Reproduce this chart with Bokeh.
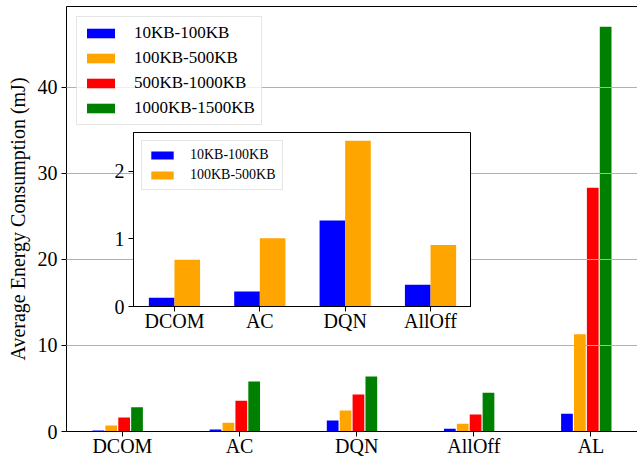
from bokeh.plotting import figure
from bokeh.models import (Range1d, FixedTicker, Legend, LegendItem,
                          ColumnDataSource, GridBox, LinearAxis)
from bokeh.transform import dodge
from bokeh.embed import file_html
from bokeh.resources import INLINE

# Average energy consumption (mJ) per method and file-size bin
methods = ["DCOM", "AC", "DQN", "AllOff", "AL"]
size_bins = ["10KB-100KB", "100KB-500KB", "500KB-1000KB", "1000KB-1500KB"]
energy_10_100 = [0.13, 0.22, 1.27, 0.32, 2.05]
energy_100_500 = [0.69, 1.01, 2.45, 0.91, 11.3]
energy_500_1000 = [1.63, 3.56, 4.30, 1.97, 28.3]
energy_1000_1500 = [2.83, 5.80, 6.40, 4.49, 47.0]
bar_colors = ["blue", "orange", "red", "green"]

# zoomed view: the first four methods, two smallest bins
inset_methods = methods[:4]

FONT = "Liberation Serif"

# both figures share the same border sizes, since the grid cell aligns frames
BORDER_L, BORDER_T, BORDER_R, BORDER_B = 66, 6, 0, 28


def style_axes(fig, size="20px"):
    for ax in (fig.xaxis, fig.yaxis):
        ax.major_label_text_font = FONT
        ax.major_label_text_font_size = size
        ax.major_label_text_color = "black"
        ax.axis_line_color = "black"
        ax.major_tick_line_color = "black"
        ax.major_tick_out = 5
        ax.major_tick_in = 0
        ax.minor_tick_line_color = None
    fig.xaxis.major_label_standoff = -2
    fig.yaxis.major_label_standoff = 4


series = [energy_10_100, energy_100_500, energy_500_1000, energy_1000_1500]
src = ColumnDataSource(dict(
    x=list(range(len(methods))),
    s0=energy_10_100, s1=energy_100_500, s2=energy_500_1000, s3=energy_1000_1500,
))

ymax = max(max(s) for s in series) * 1.05
p = figure(width=637, height=459, output_backend="svg", toolbar_location=None,
           x_range=Range1d(-0.477, 4.397), y_range=Range1d(0, ymax),
           min_border=0, min_border_left=BORDER_L, min_border_top=BORDER_T,
           min_border_right=BORDER_R, min_border_bottom=BORDER_B,
           outline_line_color=None,
           background_fill_color="white", border_fill_color="white")

offsets = [-0.205, -0.095, 0.015, 0.125]
renderers = []
for i, (off, col) in enumerate(zip(offsets, bar_colors)):
    r = p.vbar(x=dodge("x", off), top=f"s{i}", width=0.1, bottom=0, source=src,
               fill_color=col, line_color=None)
    renderers.append(r)

p.xaxis.ticker = FixedTicker(ticks=list(range(len(methods))))
p.xaxis.major_label_overrides = {i: m for i, m in enumerate(methods)}
p.yaxis.ticker = FixedTicker(ticks=[0, 10, 20, 30, 40])
style_axes(p)
p.yaxis.axis_label = "Average Energy Consumption (mJ)"
p.yaxis.axis_label_text_font = FONT
p.yaxis.axis_label_text_font_size = "20px"
p.yaxis.axis_label_text_font_style = "normal"
p.yaxis.axis_label_text_color = "black"
p.yaxis.axis_label_standoff = 6
p.xgrid.visible = False
p.ygrid.grid_line_color = "#b0b0b0"
p.ygrid.grid_line_width = 1
p.ygrid.level = "guide"

# top spine only (the right side of the frame runs off the page)
top_spine = LinearAxis(ticker=FixedTicker(ticks=[]), major_tick_out=0,
                       major_tick_in=0, minor_tick_out=0, minor_tick_in=0,
                       major_label_standoff=0, major_label_text_font_size="0px",
                       axis_line_color="black")
p.add_layout(top_spine, "above")

legend = Legend(
    items=[LegendItem(label=lab, renderers=[r]) for lab, r in zip(size_bins, renderers)],
    location="top_left", margin=10, padding=6, spacing=5,
    glyph_width=35, glyph_height=12, label_standoff=16, label_height=20,
    label_text_font=FONT, label_text_font_size="17px", label_text_color="black",
    border_line_color="#cccccc", background_fill_color="white",
    background_fill_alpha=0.8,
)
p.add_layout(legend)

# inset chart
isrc = ColumnDataSource(dict(
    x=list(range(len(inset_methods))),
    s0=energy_10_100[:4], s1=energy_100_500[:4],
))
iymax = max(energy_10_100[:4] + energy_100_500[:4]) * 1.05
inset_frame_w, inset_frame_h = 338, 174
inset = figure(width=BORDER_L + inset_frame_w + BORDER_R,
               height=BORDER_T + inset_frame_h + BORDER_B,
               output_backend="svg", toolbar_location=None,
               x_range=Range1d(-0.48, 3.48), y_range=Range1d(0, iymax),
               min_border=0, min_border_left=BORDER_L, min_border_top=BORDER_T,
               min_border_right=BORDER_R, min_border_bottom=BORDER_B,
               outline_line_color="black",
               background_fill_color="white", border_fill_color=None,
               margin=(132 - BORDER_T, 0, 0, 133 - BORDER_L))
ir = []
for i, (off, col) in enumerate(zip([-0.15, 0.15], bar_colors[:2])):
    ir.append(inset.vbar(x=dodge("x", off), top=f"s{i}", width=0.3, bottom=0,
                         source=isrc, fill_color=col, line_color=None))
inset.xaxis.ticker = FixedTicker(ticks=list(range(len(inset_methods))))
inset.xaxis.major_label_overrides = {i: m for i, m in enumerate(inset_methods)}
inset.yaxis.ticker = FixedTicker(ticks=[0, 1, 2])
style_axes(inset)
inset.xgrid.visible = False
inset.ygrid.visible = False

ilegend = Legend(
    items=[LegendItem(label=lab, renderers=[r]) for lab, r in zip(size_bins[:2], ir)],
    location="top_left", margin=8, padding=6, spacing=4,
    glyph_width=28, glyph_height=10, label_standoff=14, label_height=16,
    label_text_font=FONT, label_text_font_size="14px", label_text_color="black",
    border_line_color="#cccccc", background_fill_color="white",
    background_fill_alpha=0.8,
)
inset.add_layout(ilegend)

layout = GridBox(children=[(p, 0, 0), (inset, 0, 0)])

open("out.html", "w").write(file_html(layout, INLINE))
